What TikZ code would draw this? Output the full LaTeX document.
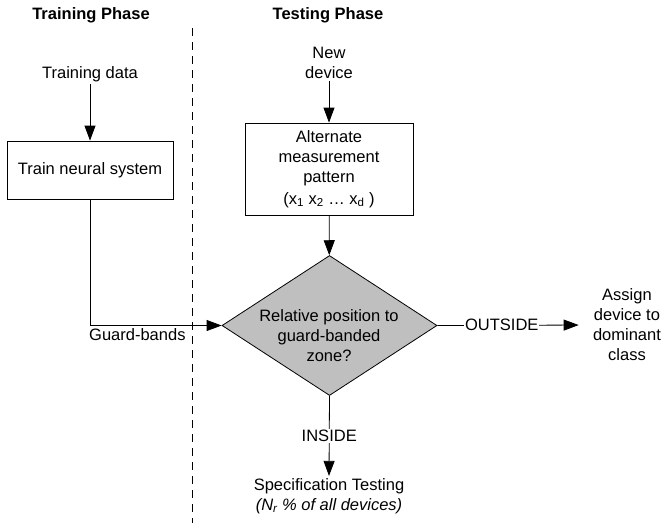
\documentclass[tikz,border=0pt]{standalone}
\usepackage{fontspec}
\setmainfont{Liberation Sans}
\usepackage{tikz}
\usetikzlibrary{arrows.meta,shapes.geometric}

\begin{document}
\begin{tikzpicture}[x=1pt,y=-1pt,>={Triangle[length=15pt,width=11pt]},line width=0.8pt,
		every node/.style={font=\fontsize{16.5}{20}\selectfont,inner sep=2pt},
		phase/.style={font=\fontsize{16.5}{20}\selectfont\bfseries},
		txt/.style={align=center},
		procbox/.style={draw,align=center,inner sep=0pt},
		decision/.style={draw,diamond,fill=gray!50,inner sep=0pt,minimum width=215,minimum height=140}]
	\useasboundingbox (0,0) rectangle (662,523);
	
	\node[phase] (trph) at (91,15) {Training Phase};
	\node[phase] (teph) at (328,15) {Testing Phase};
	
	\coordinate (dtop) at (192,28);
	\coordinate (dbot) at (192,523);
	\draw[dash pattern=on 8pt off 6pt] (dtop)--(dbot);
	
	% training side
	\node[txt] (tdata) at (90,74) {Training data};
	\node[procbox,minimum width=166,minimum height=58] (train) at (90,170) {Train neural system};
	
	% testing side
	\node[txt] (newdev) at (329,63) {New\\device};
	\node[procbox,minimum width=168,minimum height=92] (amp) at (329,169)
		{Alternate\\measurement\\pattern\\[2pt](x\textsubscript{1} x\textsubscript{2} \dots{} x\textsubscript{d} )};
	\node[decision] (dec) at (329.5,325.5) {};
	\node[txt] (dectxt) at (329,336) {Relative position to\\guard-banded\\zone?};
	\node[txt] (assign) at (627,325) {Assign\\device to\\dominant\\class};
	\node[txt] (spec) at (329,496) {Specification Testing\\\textit{(N\textsubscript{r} \% of all devices)}};
	
	\draw[->] (tdata)--(train);
	\draw[->] (newdev)--(amp);
	\draw[->] (amp)--(dec);
	\draw[->] (train.south) |- (dec.west) node[pos=0.68,below=1pt]{Guard-bands};
	\draw[->,shorten >=12pt] (dec.east)--(assign.west) node[pos=0.42,fill=white,inner sep=1pt]{OUTSIDE};
	\draw[->] (dec.south)--(spec.north) node[midway,fill=white,inner sep=1pt]{INSIDE};
\end{tikzpicture}
\end{document}
